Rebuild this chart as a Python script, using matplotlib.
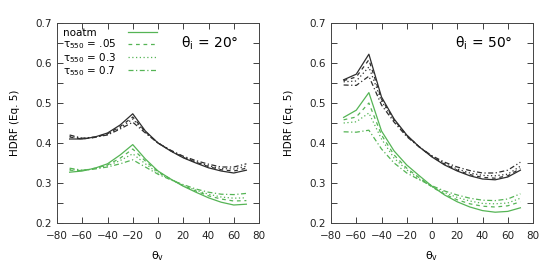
import numpy as np
import matplotlib
matplotlib.use("Agg")
from matplotlib import pyplot as plt
from matplotlib import ticker

theta_v = [-70, -60, -50, -40, -30, -20, -10, 0, 10, 20, 30, 40, 50, 60, 70]
labels = ["noatm", "τ$_{550}$ = .05", "τ$_{550}$ = 0.3", "τ$_{550}$ = 0.7"]
styles = ["-", (0, (3, 3)), (0, (1, 2)), (0, (4, 2, 1, 2))]

# theta_i = 20
black_20 = [
    [0.410, 0.410, 0.415, 0.425, 0.445, 0.473, 0.430, 0.400, 0.380, 0.363, 0.350, 0.338, 0.330, 0.325, 0.332],
    [0.415, 0.410, 0.414, 0.423, 0.441, 0.465, 0.428, 0.400, 0.381, 0.364, 0.352, 0.341, 0.333, 0.330, 0.337],
    [0.417, 0.411, 0.414, 0.422, 0.438, 0.460, 0.427, 0.400, 0.381, 0.365, 0.353, 0.343, 0.336, 0.335, 0.342],
    [0.420, 0.412, 0.415, 0.420, 0.435, 0.452, 0.425, 0.400, 0.382, 0.367, 0.356, 0.347, 0.340, 0.340, 0.348],
]
green_20 = [
    [0.327, 0.330, 0.337, 0.348, 0.370, 0.396, 0.360, 0.330, 0.310, 0.292, 0.277, 0.263, 0.252, 0.245, 0.247],
    [0.332, 0.331, 0.337, 0.345, 0.362, 0.385, 0.355, 0.328, 0.310, 0.293, 0.280, 0.268, 0.260, 0.255, 0.256],
    [0.334, 0.331, 0.336, 0.343, 0.356, 0.373, 0.348, 0.325, 0.309, 0.294, 0.282, 0.272, 0.265, 0.262, 0.263],
    [0.337, 0.332, 0.335, 0.340, 0.348, 0.358, 0.340, 0.322, 0.308, 0.296, 0.285, 0.277, 0.272, 0.271, 0.274],
]

# theta_i = 50
black_50 = [
    [0.558, 0.572, 0.622, 0.515, 0.460, 0.420, 0.390, 0.365, 0.345, 0.330, 0.318, 0.310, 0.308, 0.315, 0.332],
    [0.556, 0.565, 0.608, 0.510, 0.458, 0.419, 0.390, 0.366, 0.347, 0.332, 0.321, 0.314, 0.312, 0.318, 0.336],
    [0.553, 0.555, 0.590, 0.505, 0.456, 0.418, 0.390, 0.367, 0.349, 0.335, 0.325, 0.319, 0.318, 0.322, 0.342],
    [0.545, 0.544, 0.567, 0.495, 0.452, 0.416, 0.390, 0.368, 0.352, 0.340, 0.331, 0.325, 0.325, 0.332, 0.352],
]
green_50 = [
    [0.464, 0.482, 0.526, 0.430, 0.380, 0.345, 0.318, 0.292, 0.270, 0.253, 0.240, 0.231, 0.227, 0.229, 0.238],
    [0.458, 0.465, 0.500, 0.420, 0.370, 0.337, 0.313, 0.290, 0.272, 0.258, 0.248, 0.242, 0.240, 0.243, 0.253],
    [0.450, 0.453, 0.475, 0.410, 0.362, 0.333, 0.310, 0.291, 0.276, 0.264, 0.255, 0.249, 0.248, 0.250, 0.262],
    [0.428, 0.427, 0.432, 0.385, 0.350, 0.325, 0.308, 0.293, 0.280, 0.270, 0.262, 0.257, 0.256, 0.260, 0.273],
]

panels = [("θ$_\\mathrm{i}$ = 20°", black_20, green_20),
          ("θ$_\\mathrm{i}$ = 50°", black_50, green_50)]

black = "#2e2e2e"
green = "#55b455"

plt.rcParams["mathtext.fontset"] = "dejavusans"

fig = plt.figure(figsize=(5.5, 2.67), dpi=100)
positions = [[57 / 550, 44 / 267, 202 / 550, 200 / 267],
             [331 / 550, 44 / 267, 202 / 550, 200 / 267]]

leg = None
for k, (title, blk, grn) in enumerate(panels):
    ax = fig.add_axes(positions[k])
    for i in range(4):
        ax.plot(theta_v, blk[i], color=black, ls=styles[i], lw=0.9)
    handles = []
    for i in range(4):
        h, = ax.plot(theta_v, grn[i], color=green, ls=styles[i], lw=0.9)
        handles.append(h)
    ax.set_xlim(-80, 80)
    ax.set_ylim(0.2, 0.7)
    ax.xaxis.set_major_locator(ticker.MultipleLocator(20))
    ax.yaxis.set_major_locator(ticker.MultipleLocator(0.1))
    ax.yaxis.set_minor_locator(ticker.MultipleLocator(0.05))
    ax.yaxis.set_major_formatter(ticker.FormatStrFormatter("%.1f"))
    ax.tick_params(which="both", direction="in", top=True, right=True,
                   labelsize=7.5, length=4, width=0.6, colors="#222222",
                   pad=3.5)
    ax.tick_params(axis="x", pad=5.5)
    for sp in ax.spines.values():
        sp.set_linewidth(0.7)
        sp.set_color("#444444")
    ax.set_xlabel("θ$_\\mathrm{v}$", fontsize=8, labelpad=6)
    ax.set_ylabel("HDRF (Eq. 5)", fontsize=7.5, labelpad=11)
    ax.text(0.9, 0.9, title, transform=ax.transAxes, ha="right", va="center",
            fontsize=10)
    if k == 0:
        # gnuplot-like key: labels on the left, samples on the right
        leg = ax.legend(handles, labels, loc="upper left", frameon=False,
                        fontsize=7.5, markerfirst=False, handlelength=2.7,
                        handletextpad=1.15, labelspacing=-0.05,
                        borderaxespad=0, borderpad=0,
                        bbox_to_anchor=(0.03, 0.975))

# left-align the key labels by padding the gap before each sample
fig.canvas.draw()
widths = [t.get_window_extent().width * 72 / fig.dpi for t in leg.get_texts()]
rows = leg._legend_handle_box.get_children()[0].get_children()
for row, w in zip(rows, widths):
    row.sep = row.sep + (max(widths) - w)

fig.savefig("out.png", dpi=100)
